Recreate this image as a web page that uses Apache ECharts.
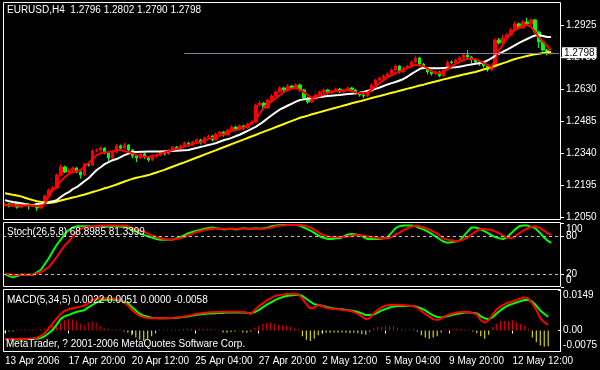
<!DOCTYPE html>
<html><head><meta charset="utf-8">
<script src="https://cdn.jsdelivr.net/npm/echarts@6/dist/echarts.min.js"></script>
<style>html,body{margin:0;padding:0;background:#000;}#c{width:600px;height:370px;}</style>
</head><body><div id="c"></div>
<script>
const symbolTitle = 'EURUSD,H4  1.2796 1.2802 1.2790 1.2798';
const stochTitle = 'Stoch(26,5,8) 68.8985 81.3399';
const macdTitle = 'MACD(5,34,5) 0.0022 0.0051 0.0000 -0.0058';
const copyright = 'MetaTrader, ? 2001-2006 MetaQuotes Software Corp.';
const timeLabels = ['13 Apr 2006','17 Apr 20:00','20 Apr 12:00','25 Apr 04:00','27 Apr 20:00','2 May 12:00','5 May 04:00','9 May 20:00','12 May 12:00'];
const labelStep = 16;
const barCount = 140;
const priceTicks = [1.2050,1.2195,1.2340,1.2485,1.2630,1.2780,1.2925];
const bidPrice = 1.2798;
const bidLineStart = 45;
const stochLevels = [80, 20];
const stochTicks = [0, 20, 80, 100];
const stochEdgeLabels = [0, 100];
const macdTicks = [-0.0075, 0, 0.0149];

// [open, close, low, high]
const candles = [
[1.2105,1.2109,1.2098,1.2115],[1.2109,1.2100,1.2094,1.2113],[1.2100,1.2114,1.2096,1.2118],[1.2114,1.2095,1.2088,1.2117],[1.2095,1.2105,1.2090,1.2110],
[1.2105,1.2109,1.2100,1.2114],[1.2109,1.2100,1.2084,1.2112],[1.2100,1.2105,1.2095,1.2110],[1.2105,1.2091,1.2078,1.2108],[1.2091,1.2109,1.2088,1.2112],
[1.2109,1.2146,1.2105,1.2152],[1.2146,1.2173,1.2140,1.2180],[1.2173,1.2182,1.2165,1.2190],[1.2182,1.2241,1.2178,1.2248],[1.2241,1.2278,1.2235,1.2290],
[1.2278,1.2255,1.2250,1.2284],[1.2255,1.2264,1.2248,1.2272],[1.2264,1.2273,1.2258,1.2280],[1.2273,1.2255,1.2250,1.2278],[1.2255,1.2241,1.2225,1.2260],
[1.2241,1.2291,1.2236,1.2296],[1.2291,1.2287,1.2280,1.2298],[1.2287,1.2351,1.2282,1.2358],[1.2351,1.2355,1.2344,1.2362],[1.2355,1.2364,1.2348,1.2372],
[1.2364,1.2342,1.2336,1.2368],[1.2342,1.2319,1.2300,1.2346],[1.2319,1.2346,1.2314,1.2352],[1.2346,1.2374,1.2340,1.2382],[1.2374,1.2364,1.2356,1.2380],
[1.2364,1.2378,1.2358,1.2388],[1.2378,1.2355,1.2348,1.2382],[1.2355,1.2328,1.2318,1.2360],[1.2328,1.2319,1.2300,1.2334],[1.2319,1.2337,1.2314,1.2342],
[1.2337,1.2323,1.2315,1.2342],[1.2323,1.2310,1.2302,1.2328],[1.2310,1.2328,1.2305,1.2334],[1.2328,1.2332,1.2320,1.2338],[1.2332,1.2346,1.2326,1.2352],
[1.2346,1.2337,1.2330,1.2350],[1.2337,1.2355,1.2333,1.2360],[1.2355,1.2369,1.2350,1.2374],[1.2369,1.2360,1.2352,1.2374],[1.2360,1.2374,1.2356,1.2380],
[1.2374,1.2387,1.2368,1.2394],[1.2387,1.2378,1.2370,1.2392],[1.2378,1.2392,1.2374,1.2398],[1.2392,1.2401,1.2386,1.2408],[1.2401,1.2387,1.2380,1.2406],
[1.2387,1.2410,1.2382,1.2416],[1.2410,1.2419,1.2404,1.2426],[1.2419,1.2401,1.2394,1.2424],[1.2401,1.2428,1.2398,1.2434],[1.2428,1.2437,1.2422,1.2444],
[1.2437,1.2424,1.2416,1.2442],[1.2424,1.2446,1.2420,1.2452],[1.2446,1.2460,1.2440,1.2468],[1.2460,1.2451,1.2444,1.2466],[1.2451,1.2465,1.2446,1.2472],
[1.2465,1.2456,1.2448,1.2470],[1.2456,1.2474,1.2452,1.2480],[1.2474,1.2483,1.2468,1.2490],[1.2483,1.2560,1.2478,1.2566],[1.2560,1.2569,1.2552,1.2580],
[1.2569,1.2547,1.2540,1.2574],[1.2547,1.2583,1.2542,1.2590],[1.2583,1.2601,1.2578,1.2610],[1.2601,1.2620,1.2596,1.2628],[1.2620,1.2638,1.2614,1.2646],
[1.2638,1.2629,1.2620,1.2644],[1.2629,1.2647,1.2624,1.2656],[1.2647,1.2638,1.2630,1.2652],[1.2638,1.2652,1.2634,1.2660],[1.2652,1.2629,1.2622,1.2658],
[1.2629,1.2592,1.2586,1.2634],[1.2592,1.2574,1.2566,1.2598],[1.2574,1.2588,1.2570,1.2594],[1.2588,1.2606,1.2584,1.2612],[1.2606,1.2620,1.2600,1.2626],
[1.2620,1.2629,1.2614,1.2636],[1.2629,1.2615,1.2608,1.2634],[1.2615,1.2624,1.2610,1.2630],[1.2624,1.2633,1.2618,1.2640],[1.2633,1.2620,1.2614,1.2638],
[1.2620,1.2629,1.2616,1.2634],[1.2629,1.2638,1.2624,1.2644],[1.2638,1.2629,1.2622,1.2642],[1.2629,1.2615,1.2608,1.2634],[1.2615,1.2606,1.2598,1.2620],
[1.2606,1.2601,1.2592,1.2612],[1.2601,1.2620,1.2596,1.2626],[1.2620,1.2652,1.2616,1.2658],[1.2652,1.2674,1.2646,1.2680],[1.2674,1.2683,1.2668,1.2690],
[1.2683,1.2693,1.2676,1.2700],[1.2693,1.2702,1.2686,1.2710],[1.2702,1.2720,1.2696,1.2728],[1.2720,1.2738,1.2714,1.2746],[1.2738,1.2711,1.2704,1.2742],
[1.2711,1.2729,1.2706,1.2736],[1.2729,1.2738,1.2722,1.2744],[1.2738,1.2756,1.2732,1.2764],[1.2756,1.2775,1.2750,1.2786],[1.2775,1.2747,1.2740,1.2780],
[1.2747,1.2729,1.2722,1.2752],[1.2729,1.2711,1.2700,1.2734],[1.2711,1.2702,1.2694,1.2716],[1.2702,1.2711,1.2696,1.2718],[1.2711,1.2693,1.2686,1.2716],
[1.2693,1.2720,1.2688,1.2726],[1.2720,1.2756,1.2716,1.2764],[1.2756,1.2752,1.2748,1.2764],[1.2752,1.2766,1.2746,1.2772],[1.2766,1.2775,1.2760,1.2784],
[1.2775,1.2788,1.2770,1.2796],[1.2788,1.2779,1.2766,1.2810],[1.2779,1.2766,1.2750,1.2784],[1.2766,1.2756,1.2748,1.2770],[1.2756,1.2747,1.2738,1.2760],
[1.2747,1.2738,1.2730,1.2752],[1.2738,1.2720,1.2712,1.2742],[1.2720,1.2734,1.2714,1.2740],[1.2734,1.2857,1.2728,1.2864],[1.2857,1.2843,1.2836,1.2866],
[1.2843,1.2866,1.2838,1.2880],[1.2866,1.2879,1.2860,1.2888],[1.2879,1.2902,1.2874,1.2912],[1.2902,1.2930,1.2896,1.2942],[1.2930,1.2911,1.2904,1.2936],
[1.2911,1.2939,1.2906,1.2946],[1.2939,1.2930,1.2922,1.2958],[1.2930,1.2948,1.2924,1.2954],[1.2948,1.2893,1.2886,1.2952],[1.2893,1.2848,1.2820,1.2898],
[1.2848,1.2811,1.2804,1.2854],[1.2811,1.2796,1.2786,1.2814],[1.2796,1.2798,1.2790,1.2802]
];

const maFast = [
1.2104,1.2104,1.2102,1.2104,1.2102,1.2102,1.2104,1.2102,1.2100,1.2102,
1.2109,1.2145,1.2173,1.2191,1.2214,1.2232,1.2246,1.2255,1.2259,1.2264,
1.2282,1.2296,1.2314,1.2332,1.2341,1.2344,1.2346,1.2350,1.2355,1.2355,
1.2350,1.2346,1.2341,1.2332,1.2328,1.2325,1.2323,1.2328,1.2332,1.2337,
1.2344,1.2350,1.2355,1.2360,1.2364,1.2371,1.2378,1.2382,1.2387,1.2391,
1.2398,1.2405,1.2410,1.2414,1.2421,1.2428,1.2435,1.2442,1.2446,1.2451,
1.2458,1.2464,1.2478,1.2496,1.2524,1.2551,1.2565,1.2578,1.2592,1.2606,
1.2619,1.2629,1.2635,1.2638,1.2629,1.2619,1.2606,1.2592,1.2597,1.2601,
1.2610,1.2617,1.2619,1.2623,1.2624,1.2626,1.2629,1.2624,1.2617,1.2615,
1.2615,1.2617,1.2631,1.2645,1.2661,1.2674,1.2686,1.2697,1.2706,1.2713,
1.2720,1.2729,1.2738,1.2743,1.2740,1.2738,1.2727,1.2715,1.2708,1.2706,
1.2711,1.2724,1.2736,1.2747,1.2756,1.2765,1.2770,1.2772,1.2770,1.2761,
1.2752,1.2743,1.2733,1.2765,1.2811,1.2838,1.2866,1.2889,1.2902,1.2914,
1.2923,1.2925,1.2916,1.2893,1.2868,1.2850,1.2829,1.2811
];
const maMid = [
1.2127,1.2122,1.2118,1.2116,1.2113,1.2109,1.2106,1.2104,1.2109,1.2111,
1.2113,1.2118,1.2122,1.2127,1.2141,1.2154,1.2163,1.2177,1.2186,1.2200,
1.2214,1.2227,1.2246,1.2264,1.2277,1.2291,1.2300,1.2309,1.2314,1.2323,
1.2332,1.2339,1.2346,1.2346,1.2347,1.2347,1.2348,1.2348,1.2349,1.2349,
1.2350,1.2350,1.2351,1.2352,1.2353,1.2354,1.2355,1.2360,1.2364,1.2369,
1.2373,1.2378,1.2382,1.2387,1.2394,1.2401,1.2405,1.2412,1.2419,1.2426,
1.2435,1.2444,1.2453,1.2462,1.2474,1.2487,1.2501,1.2515,1.2528,1.2540,
1.2549,1.2558,1.2567,1.2576,1.2583,1.2586,1.2589,1.2592,1.2595,1.2597,
1.2599,1.2601,1.2603,1.2605,1.2606,1.2608,1.2610,1.2612,1.2614,1.2616,
1.2620,1.2625,1.2629,1.2634,1.2640,1.2647,1.2654,1.2660,1.2665,1.2672,
1.2679,1.2690,1.2702,1.2713,1.2724,1.2730,1.2729,1.2728,1.2728,1.2728,
1.2729,1.2730,1.2731,1.2732,1.2735,1.2738,1.2742,1.2745,1.2748,1.2751,
1.2754,1.2763,1.2773,1.2784,1.2794,1.2804,1.2813,1.2823,1.2833,1.2843,
1.2852,1.2861,1.2870,1.2877,1.2879,1.2875,1.2870,1.2870
];
const maSlow = [
1.2158,1.2155,1.2151,1.2148,1.2144,1.2138,1.2132,1.2127,1.2122,1.2119,
1.2116,1.2114,1.2116,1.2120,1.2125,1.2130,1.2134,1.2139,1.2143,1.2148,
1.2153,1.2158,1.2164,1.2169,1.2175,1.2181,1.2186,1.2192,1.2198,1.2205,
1.2212,1.2218,1.2224,1.2229,1.2233,1.2237,1.2241,1.2247,1.2253,1.2259,
1.2265,1.2272,1.2279,1.2286,1.2293,1.2299,1.2306,1.2313,1.2320,1.2327,
1.2334,1.2341,1.2348,1.2355,1.2362,1.2369,1.2376,1.2383,1.2390,1.2397,
1.2404,1.2411,1.2418,1.2425,1.2432,1.2439,1.2446,1.2453,1.2460,1.2467,
1.2474,1.2481,1.2488,1.2495,1.2502,1.2507,1.2512,1.2518,1.2523,1.2528,
1.2533,1.2538,1.2543,1.2548,1.2553,1.2558,1.2563,1.2568,1.2573,1.2577,
1.2582,1.2587,1.2592,1.2597,1.2601,1.2606,1.2611,1.2616,1.2620,1.2625,
1.2630,1.2635,1.2639,1.2644,1.2649,1.2653,1.2658,1.2663,1.2667,1.2672,
1.2677,1.2681,1.2686,1.2690,1.2695,1.2699,1.2703,1.2707,1.2711,1.2716,
1.2722,1.2727,1.2733,1.2739,1.2745,1.2751,1.2757,1.2764,1.2770,1.2775,
1.2779,1.2784,1.2788,1.2791,1.2794,1.2797,1.2800,1.2802
];
const stochMain = [
20,17,15,17,19,19,19,19,23,27,
36,45,56,66,74,83,89,93,95,95,
95,95,94,95,95,94,94,95,95,94,
94,92,89,86,83,81,79,77,75,74,
74,74,74,76,78,81,84,86,88,89,
91,92,93,92,91,90,91,91,90,91,
92,91,91,92,91,92,93,95,96,97,
97,97,97,97,96,93,90,87,83,79,
77,75,75,76,76,79,82,83,82,81,
78,75,75,75,75,76,78,85,92,95,
96,96,96,95,92,90,87,83,79,75,
71,69,70,71,72,79,86,93,93,91,
88,85,81,78,76,75,78,84,90,95,
96,96,94,92,86,79,73,68.9
];
const stochSignal = [
21,20,19,19,19,19,19,19,21,23,
27,31,39,47,56,65,71,79,86,91,
93,94,95,95,96,96,96,96,96,96,
96,95,92,90,88,86,83,80,78,76,
75,74,74,75,76,78,81,83,86,87,
89,90,91,91,91,91,91,91,91,91,
91,91,91,91,91,91,92,93,95,96,
96,97,97,97,97,96,94,92,88,84,
81,79,78,78,78,78,79,80,81,81,
80,79,78,77,76,76,76,78,82,85,
89,92,94,96,95,93,91,88,85,81,
76,74,73,72,72,74,77,82,86,90,
91,90,89,87,84,80,77,76,79,84,
88,91,94,95,93,89,85,81.3
];
const macdMain = [
-0.0030,-0.0031,-0.0032,-0.0032,-0.0031,-0.0030,-0.0030,-0.0029,-0.0027,-0.0020,
-0.0010,0.0007,0.0026,0.0044,0.0061,0.0072,0.0078,0.0082,0.0085,0.0088,
0.0091,0.0100,0.0112,0.0117,0.0118,0.0119,0.0119,0.0118,0.0117,0.0112,
0.0103,0.0093,0.0075,0.0064,0.0054,0.0049,0.0046,0.0045,0.0045,0.0045,
0.0045,0.0046,0.0046,0.0048,0.0049,0.0051,0.0054,0.0057,0.0061,0.0063,
0.0065,0.0066,0.0067,0.0068,0.0068,0.0069,0.0069,0.0069,0.0069,0.0069,
0.0068,0.0066,0.0061,0.0076,0.0089,0.0100,0.0110,0.0118,0.0127,0.0130,
0.0132,0.0134,0.0134,0.0134,0.0133,0.0118,0.0097,0.0081,0.0085,0.0094,
0.0090,0.0083,0.0081,0.0079,0.0078,0.0076,0.0075,0.0073,0.0068,0.0061,
0.0052,0.0042,0.0046,0.0063,0.0076,0.0085,0.0091,0.0094,0.0095,0.0095,
0.0094,0.0093,0.0091,0.0090,0.0083,0.0072,0.0061,0.0051,0.0042,0.0039,
0.0044,0.0052,0.0059,0.0063,0.0066,0.0068,0.0069,0.0068,0.0064,0.0059,
0.0038,0.0029,0.0038,0.0059,0.0078,0.0089,0.0097,0.0103,0.0107,0.0113,
0.0118,0.0122,0.0118,0.0100,0.0076,0.0046,0.0030,0.0022
];
const macdSignal = [
-0.0031,-0.0032,-0.0033,-0.0033,-0.0033,-0.0032,-0.0031,-0.0030,-0.0030,-0.0027,
-0.0021,-0.0010,0.0002,0.0021,0.0042,0.0052,0.0057,0.0063,0.0068,0.0072,
0.0075,0.0085,0.0094,0.0103,0.0110,0.0112,0.0113,0.0113,0.0112,0.0110,
0.0106,0.0100,0.0087,0.0074,0.0061,0.0055,0.0051,0.0047,0.0046,0.0045,
0.0045,0.0045,0.0046,0.0046,0.0048,0.0050,0.0052,0.0054,0.0057,0.0059,
0.0061,0.0063,0.0063,0.0064,0.0065,0.0065,0.0066,0.0066,0.0066,0.0066,
0.0066,0.0065,0.0064,0.0068,0.0075,0.0085,0.0095,0.0103,0.0111,0.0118,
0.0123,0.0127,0.0129,0.0131,0.0132,0.0127,0.0117,0.0106,0.0097,0.0094,
0.0091,0.0087,0.0084,0.0081,0.0079,0.0078,0.0076,0.0074,0.0072,0.0068,
0.0063,0.0057,0.0057,0.0059,0.0066,0.0074,0.0079,0.0085,0.0088,0.0090,
0.0090,0.0090,0.0090,0.0090,0.0087,0.0081,0.0074,0.0064,0.0056,0.0050,
0.0048,0.0051,0.0054,0.0058,0.0062,0.0064,0.0066,0.0067,0.0065,0.0063,
0.0052,0.0045,0.0041,0.0049,0.0063,0.0075,0.0085,0.0093,0.0098,0.0103,
0.0108,0.0112,0.0113,0.0106,0.0091,0.0074,0.0062,0.0051
];
const macdHist = [
-0.0007,-0.0002,-0.0003,0.0002,0.0002,0.0002,0.0003,0.0003,0.0003,0.0005,
0.0008,0.0014,0.0019,0.0022,0.0030,0.0038,0.0042,0.0041,0.0035,0.0025,
0.0020,0.0030,0.0034,0.0030,0.0017,0.0010,0.0007,0.0003,0.0003,0.0002,
-0.0003,-0.0008,-0.0017,-0.0025,-0.0034,-0.0038,-0.0030,-0.0021,-0.0010,0.0002,
0.0002,0.0002,0.0003,0.0003,0.0005,0.0007,0.0008,0.0008,0.0007,0.0008,
0.0007,0.0006,0.0007,0.0003,0.0002,-0.0007,-0.0008,-0.0005,-0.0003,0.0002,
-0.0007,-0.0008,-0.0003,0.0010,0.0017,0.0024,0.0028,0.0030,0.0025,0.0021,
0.0019,0.0017,0.0013,0.0008,0.0005,-0.0021,-0.0034,-0.0038,-0.0030,-0.0017,
-0.0010,-0.0008,-0.0008,-0.0007,-0.0008,-0.0007,-0.0008,-0.0010,-0.0008,-0.0010,
-0.0013,-0.0015,-0.0004,0.0010,0.0015,0.0013,0.0017,0.0019,0.0017,0.0010,
0.0007,0.0004,0.0003,0.0008,-0.0004,-0.0017,-0.0025,-0.0030,-0.0025,-0.0021,
-0.0007,0.0005,0.0007,0.0006,0.0008,0.0007,0.0005,0.0003,-0.0003,-0.0010,
-0.0021,-0.0030,-0.0015,0.0013,0.0025,0.0034,0.0035,0.0032,0.0038,0.0030,
0.0025,0.0019,0.0007,-0.0025,-0.0042,-0.0055,-0.0059,-0.0058
];

const FONT = 'Liberation Sans';
const categories = Array.from({length: barCount}, (_, i) => String(i));
const showTime = (i) => i % labelStep === 0 && i / labelStep < timeLabels.length;
const txt = {color: '#fff', fontSize: 10, fontFamily: FONT};

const chart = echarts.init(document.getElementById('c'), null, {renderer: 'canvas'});

function catAxis(gridIndex, withLabels) {
  return {
    type: 'category', gridIndex, data: categories, boundaryGap: true,
    axisLine: {show: false}, splitLine: {show: false},
    axisTick: withLabels ? {show: true, interval: showTime, alignWithLabel: true, length: 3, lineStyle: {color: '#fff'}} : {show: false},
    axisLabel: withLabels ? Object.assign({show: true, interval: showTime, align: 'left', margin: 5,
      formatter: (v, i) => timeLabels[i / labelStep] || ''}, txt) : {show: false}
  };
}
function valAxis(gridIndex, min, max, ticks, labels, fmt) {
  return {
    type: 'value', gridIndex, position: 'right', offset: 0, min, max, scale: true,
    axisLine: {show: false}, splitLine: {show: false},
    axisTick: ticks ? {show: true, customValues: ticks, length: 3, lineStyle: {color: '#fff'}} : {show: false},
    axisLabel: Object.assign({show: true, customValues: labels, formatter: fmt, margin: 5,
      showMinLabel: true, showMaxLabel: true, hideOverlap: false,
      rich: {
        t12: Object.assign({padding: [12, 0, 0, 0]}, txt),
        t11: Object.assign({padding: [11, 0, 0, 0]}, txt),
        b14: Object.assign({padding: [0, 0, 14, 0]}, txt),
        b11: Object.assign({padding: [0, 0, 11, 0]}, txt)
      }}, txt)
  };
}

const option = {
  backgroundColor: '#000',
  animation: false,
  grid: [
    {left: 3, top: 3, width: 558, height: 216},
    {left: 3, top: 223, width: 558, height: 64},
    {left: 3, top: 290, width: 558, height: 61}
  ],
  xAxis: [catAxis(0, false), catAxis(1, false), catAxis(2, true)],
  yAxis: [
    valAxis(0, 1.2041, 1.3025, priceTicks, priceTicks, v => v.toFixed(4)),
    valAxis(1, 0, 100, stochTicks, stochEdgeLabels, v => {
      const s = String(Math.round(v));
      return v >= 100 ? '{t12|' + s + '}' : '{b14|' + s + '}';
    }),
    valAxis(2, -0.0075, 0.0149, macdTicks, macdTicks, v => {
      if (Math.abs(v) < 1e-9) return '0.00';
      const s = v.toFixed(4);
      return v > 0 ? '{t11|' + s + '}' : '{b11|' + s + '}';
    }),
    valAxis(1, 0, 100, null, stochLevels, v => String(Math.round(v)))
  ],
  series: [
    {type: 'candlestick', xAxisIndex: 0, yAxisIndex: 0, data: candles, barWidth: 3,
     itemStyle: {color: '#ff0000', color0: '#00ff00', borderColor: '#ff0000', borderColor0: '#00ff00', borderWidth: 1}},
    {type: 'line', xAxisIndex: 0, yAxisIndex: 0, data: maSlow, showSymbol: false, lineStyle: {color: '#ffff00', width: 2}},
    {type: 'line', xAxisIndex: 0, yAxisIndex: 0, data: maMid, showSymbol: false, lineStyle: {color: '#ffffff', width: 2}},
    {type: 'line', xAxisIndex: 0, yAxisIndex: 0, data: maFast, showSymbol: false, lineStyle: {color: '#ff0000', width: 2}},
    {type: 'line', xAxisIndex: 0, yAxisIndex: 0, data: [], clip: false, silent: true,
     markLine: {symbol: 'none', silent: true, animation: false,
       lineStyle: {color: '#778899', width: 1, type: 'solid'},
       label: {show: true, position: 'end', distance: 3, formatter: bidPrice.toFixed(4), color: '#000', backgroundColor: '#fff',
         padding: [1, 2, 0, 2], fontSize: 10, fontFamily: FONT},
       data: [[{coord: [bidLineStart, bidPrice]}, {coord: [barCount - 1, bidPrice]}]]}},
    {type: 'line', xAxisIndex: 1, yAxisIndex: 1, data: stochMain, showSymbol: false, clip: false, lineStyle: {color: '#00ff00', width: 2},
     markLine: {symbol: 'none', silent: true, animation: false, label: {show: false},
       lineStyle: {color: '#c0c0c0', width: 1, type: [3, 3]},
       data: stochLevels.map(v => ({yAxis: v}))}},
    {type: 'line', xAxisIndex: 1, yAxisIndex: 1, data: stochSignal, showSymbol: false, clip: false, lineStyle: {color: '#ff0000', width: 2}},
    {type: 'bar', xAxisIndex: 2, yAxisIndex: 2, data: macdHist, barWidth: 1, barMinHeight: 1,
     itemStyle: {color: p => p.value >= 0 ? '#e00000' : '#ffff00'}},
    {type: 'line', xAxisIndex: 2, yAxisIndex: 2, data: macdSignal, showSymbol: false, clip: false, lineStyle: {color: '#00ff00', width: 2}},
    {type: 'line', xAxisIndex: 2, yAxisIndex: 2, data: macdMain, showSymbol: false, clip: false, lineStyle: {color: '#ff0000', width: 2}}
  ],
  graphic: [
    {type: 'rect', silent: true, z: 100, shape: {x: 3.5, y: 2.5, width: 557, height: 217}, style: {fill: 'none', stroke: '#fff', lineWidth: 1}},
    {type: 'rect', silent: true, z: 100, shape: {x: 3.5, y: 222.5, width: 557, height: 64}, style: {fill: 'none', stroke: '#fff', lineWidth: 1}},
    {type: 'rect', silent: true, z: 100, shape: {x: 3.5, y: 289.5, width: 557, height: 62}, style: {fill: 'none', stroke: '#fff', lineWidth: 1}},
    {type: 'text', silent: true, z: 101, x: 7, y: 10, style: {text: symbolTitle, fill: '#fff', font: '10px "Liberation Sans"', verticalAlign: 'middle'}},
    {type: 'text', silent: true, z: 101, x: 7, y: 232, style: {text: stochTitle, fill: '#fff', font: '10px "Liberation Sans"', verticalAlign: 'middle'}},
    {type: 'text', silent: true, z: 101, x: 7, y: 300, style: {text: macdTitle, fill: '#fff', font: '10px "Liberation Sans"', verticalAlign: 'middle'}},
    {type: 'text', silent: true, z: 101, x: 6, y: 344, style: {text: copyright, fill: '#fff', font: '10px "Liberation Sans"', verticalAlign: 'middle'}}
  ]
};
chart.setOption(option);
</script>
</body></html>
